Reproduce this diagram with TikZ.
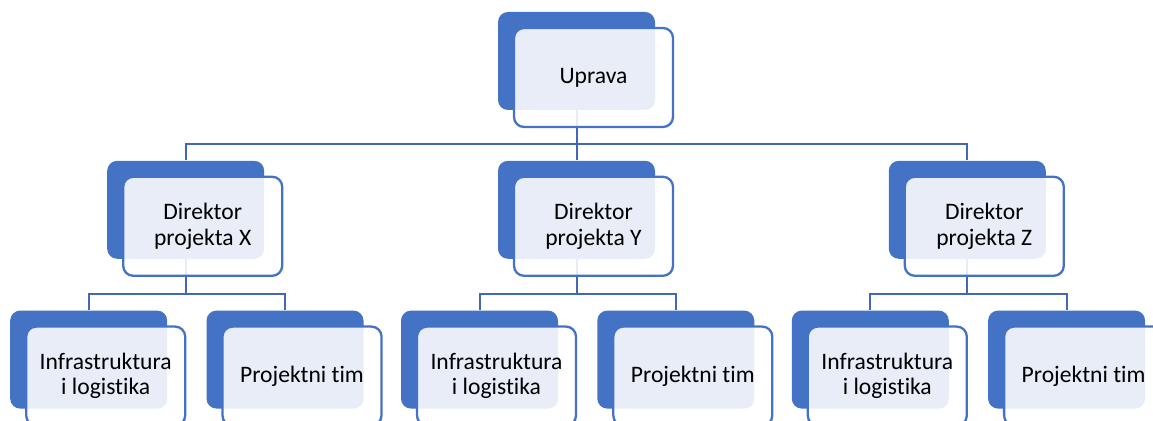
\documentclass[tikz,border=0pt]{standalone}
\usepackage{fontspec}
\setmainfont[Ligatures={NoCommon}]{Carlito}
\usetikzlibrary{positioning}
\definecolor{boxblue}{RGB}{68,114,196}
\definecolor{lineblue}{RGB}{64,104,180}
\tikzset{x=0.5pt, y=-0.5pt,
  back/.style={rectangle, rounded corners=5pt, fill=boxblue, minimum width=78.5pt, minimum height=49pt, inner sep=0pt},
  front/.style={rectangle, rounded corners=5pt, draw=boxblue, line width=1.15pt, fill=white, fill opacity=0.88, text opacity=1,
    minimum width=79.5pt, minimum height=49.5pt, inner sep=0pt, align=center, font=\fontsize{11.8pt}{12.7pt}\selectfont,
    xshift=8.5pt, yshift=-8.25pt},
  conn/.style={draw=lineblue, line width=1pt}}

\begin{document}
\begin{tikzpicture}
    \useasboundingbox (0,0) rectangle (1153,421);
    \clip (0,0) rectangle (1153,421);
    % dark boxes
    \node[back] (upravaB) at (576.5,61) {};
    \node[back, below=25pt of upravaB] (dirYB) {};
    \node[back, left=116.5pt of dirYB] (dirXB) {};
    \node[back, right=116.5pt of dirYB] (dirZB) {};
    \node[back, below=25.5pt of dirXB, xshift=-48.5pt] (infXB) {};
    \node[back, right=19.25pt of infXB] (timXB) {};
    \node[back, below=25.5pt of dirYB, xshift=-48.5pt] (infYB) {};
    \node[back, right=19.25pt of infYB] (timYB) {};
    \node[back, below=25.5pt of dirZB, xshift=-48.5pt] (infZB) {};
    \node[back, right=19.25pt of infZB] (timZB) {};
    % connectors
    \draw[conn] (upravaB.south) -- ++(0,-16.75pt) coordinate (j0);
    \draw[conn] (dirXB.north) |- (j0) -| (dirZB.north);
    \draw[conn] (j0) -- (dirYB.north);
    \draw[conn] (dirXB.south) -- ++(0,-17.5pt) coordinate (jX);
    \draw[conn] (infXB.north) |- (jX) -| (timXB.north);
    \draw[conn] (dirYB.south) -- ++(0,-17.5pt) coordinate (jY);
    \draw[conn] (infYB.north) |- (jY) -| (timYB.north);
    \draw[conn] (dirZB.south) -- ++(0,-17.5pt) coordinate (jZ);
    \draw[conn] (infZB.north) |- (jZ) -| (timZB.north);
    % front boxes
    \node[front] (uprava) at (upravaB) {Uprava};
    \node[front] (dirX) at (dirXB) {Direktor\\projekta X};
    \node[front] (dirY) at (dirYB) {Direktor\\projekta Y};
    \node[front] (dirZ) at (dirZB) {Direktor\\projekta Z};
    \node[front] (infX) at (infXB) {Infrastruktura\\i logistika};
    \node[front] (timX) at (timXB) {Projektni tim};
    \node[front] (infY) at (infYB) {Infrastruktura\\i logistika};
    \node[front] (timY) at (timYB) {Projektni tim};
    \node[front] (infZ) at (infZB) {Infrastruktura\\i logistika};
    \node[front] (timZ) at (timZB) {Projektni tim};
\end{tikzpicture}
\end{document}
